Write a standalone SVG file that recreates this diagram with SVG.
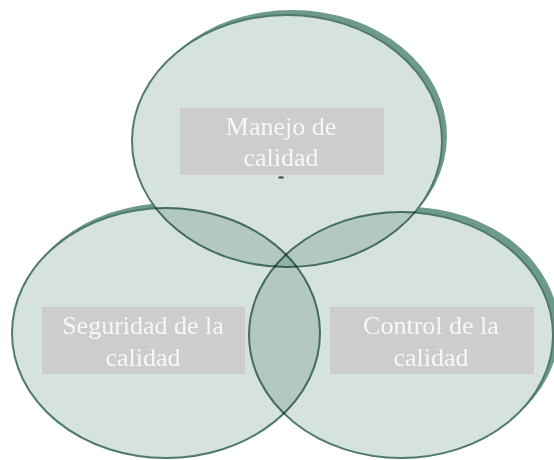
<svg xmlns="http://www.w3.org/2000/svg" width="554" height="460" viewBox="0 0 554 460">
  <style>
    .shadow { fill: #6d9a8d; }
    .circle { fill: #d6e2df; stroke: #4f7a6d; stroke-width: 2; mix-blend-mode: multiply; }
    .box { fill: #cecdce; }
    .label { font-family: "Liberation Serif", "Times New Roman", serif; font-size: 26px; fill: #f7f7f7; text-anchor: middle; }
  </style>
  <defs>
    <mask id="outside">
      <rect x="0" y="0" width="554" height="460" fill="#fff"/>
      <ellipse cx="287" cy="141" rx="155" ry="126" fill="#000"/>
      <ellipse cx="166" cy="333" rx="154" ry="125" fill="#000"/>
      <ellipse cx="401" cy="335" rx="152" ry="123" fill="#000"/>
    </mask>
  </defs>
  <rect x="0" y="0" width="554" height="460" fill="#ffffff"/>
  <g id="shadows" mask="url(#outside)">
    <ellipse class="shadow" cx="292" cy="136" rx="155" ry="126"/>
    <ellipse class="shadow" cx="170" cy="328" rx="154" ry="125"/>
    <ellipse class="shadow" cx="407" cy="330" rx="152" ry="123"/>
  </g>
  <g id="circles" style="isolation:isolate">
    <ellipse id="c-manejo" class="circle" cx="287" cy="141" rx="155" ry="126"/>
    <ellipse id="c-seguridad" class="circle" cx="166" cy="333" rx="154" ry="125"/>
    <ellipse id="c-control" class="circle" cx="401" cy="335" rx="152" ry="123"/>
  </g>
  <g id="manejo">
    <rect class="box" x="180" y="108" width="204" height="67"/>
    <text class="label" x="281" y="135">Manejo de</text>
    <text class="label" x="281" y="166">calidad</text>
    <ellipse cx="281" cy="177.5" rx="3" ry="1.2" fill="#555"/>
  </g>
  <g id="seguridad">
    <rect class="box" x="42" y="307" width="203" height="67"/>
    <text class="label" x="143" y="334">Seguridad de la</text>
    <text class="label" x="143" y="366">calidad</text>
  </g>
  <g id="control">
    <rect class="box" x="330" y="307" width="204" height="67"/>
    <text class="label" x="431" y="334">Control de la</text>
    <text class="label" x="431" y="366">calidad</text>
  </g>
</svg>
